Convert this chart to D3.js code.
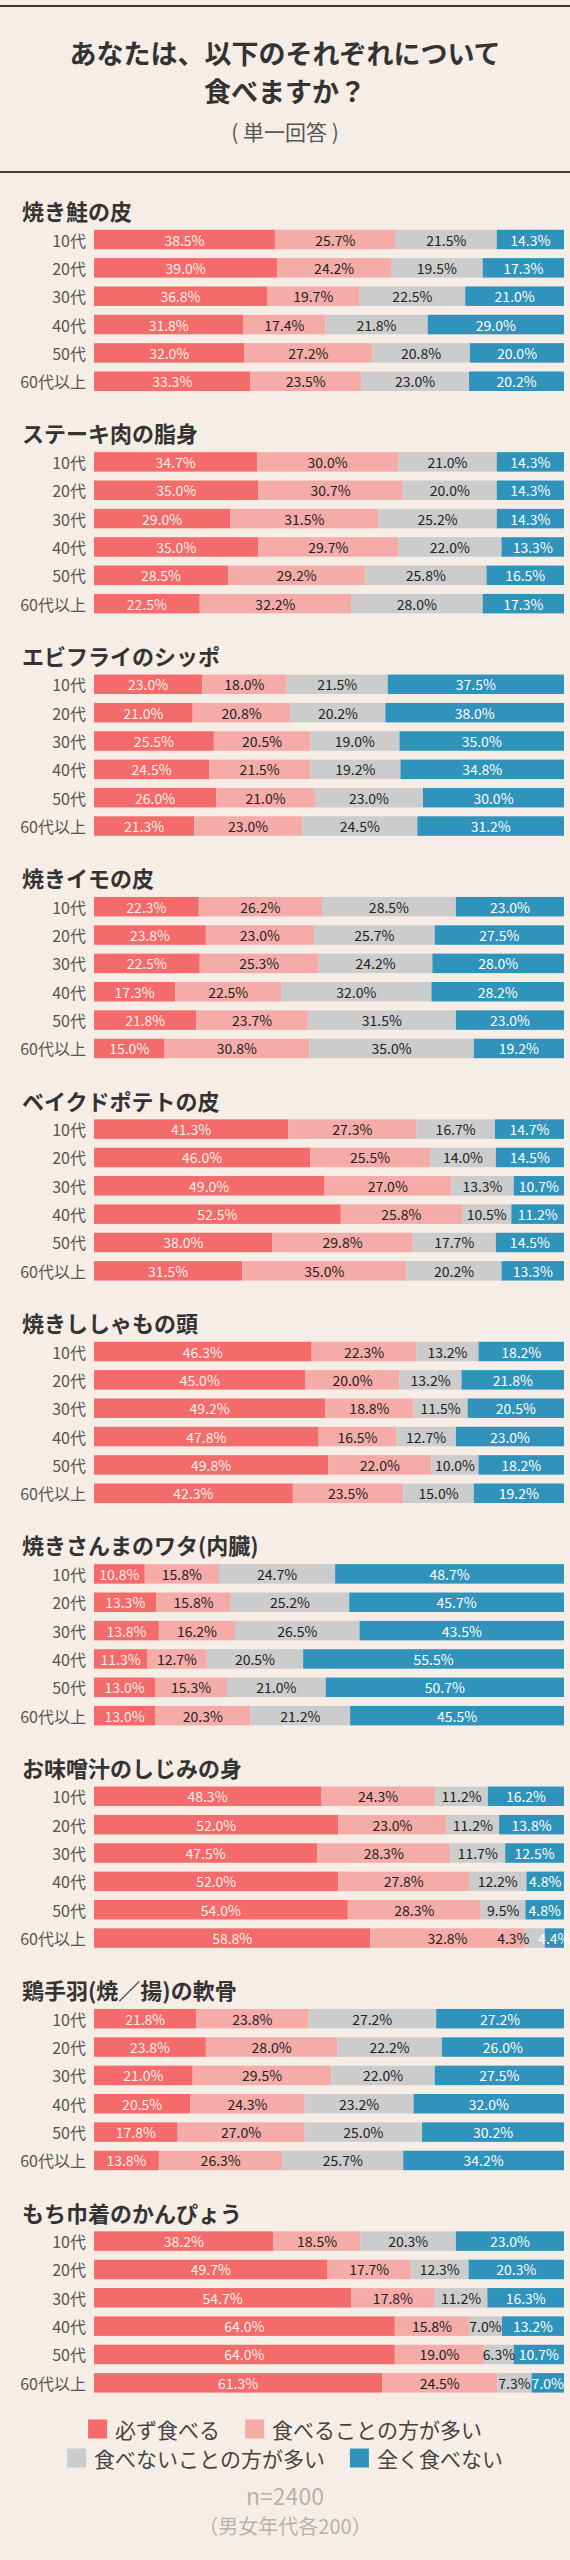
<!DOCTYPE html>
<html>
<head>
<meta charset="utf-8">
<script src="https://cdn.jsdelivr.net/npm/d3@7"></script>
<style>
  body { margin: 0; background: #f6eee6; }
  svg { display: block; }
</style>
</head>
<body>
<div class="container"></div>
<script>
const items = [
  '焼き鮭の皮', 'ステーキ肉の脂身', 'エビフライのシッポ', '焼きイモの皮', 'ベイクドポテトの皮',
  '焼きししゃもの頭', '焼きさんまのワタ(内臓)', 'お味噌汁のしじみの身', '鶏手羽(焼／揚)の軟骨', 'もち巾着のかんぴょう'
]
const ages = ['10代', '20代', '30代', '40代', '50代', '60代以上']
const answers = ['必ず食べる', '食べることの方が多い', '食べないことの方が多い', '全く食べない']

// one array per answer: [item][age]
const mustEat = [
  [38.5, 39.0, 36.8, 31.8, 32.0, 33.3],
  [34.7, 35.0, 29.0, 35.0, 28.5, 22.5],
  [23.0, 21.0, 25.5, 24.5, 26.0, 21.3],
  [22.3, 23.8, 22.5, 17.3, 21.8, 15.0],
  [41.3, 46.0, 49.0, 52.5, 38.0, 31.5],
  [46.3, 45.0, 49.2, 47.8, 49.8, 42.3],
  [10.8, 13.3, 13.8, 11.3, 13.0, 13.0],
  [48.3, 52.0, 47.5, 52.0, 54.0, 58.8],
  [21.8, 23.8, 21.0, 20.5, 17.8, 13.8],
  [38.2, 49.7, 54.7, 64.0, 64.0, 61.3]
]
const oftenEat = [
  [25.7, 24.2, 19.7, 17.4, 27.2, 23.5],
  [30.0, 30.7, 31.5, 29.7, 29.2, 32.2],
  [18.0, 20.8, 20.5, 21.5, 21.0, 23.0],
  [26.2, 23.0, 25.3, 22.5, 23.7, 30.8],
  [27.3, 25.5, 27.0, 25.8, 29.8, 35.0],
  [22.3, 20.0, 18.8, 16.5, 22.0, 23.5],
  [15.8, 15.8, 16.2, 12.7, 15.3, 20.3],
  [24.3, 23.0, 28.3, 27.8, 28.3, 32.8],
  [23.8, 28.0, 29.5, 24.3, 27.0, 26.3],
  [18.5, 17.7, 17.8, 15.8, 19.0, 24.5]
]
const rarelyEat = [
  [21.5, 19.5, 22.5, 21.8, 20.8, 23.0],
  [21.0, 20.0, 25.2, 22.0, 25.8, 28.0],
  [21.5, 20.2, 19.0, 19.2, 23.0, 24.5],
  [28.5, 25.7, 24.2, 32.0, 31.5, 35.0],
  [16.7, 14.0, 13.3, 10.5, 17.7, 20.2],
  [13.2, 13.2, 11.5, 12.7, 10.0, 15.0],
  [24.7, 25.2, 26.5, 20.5, 21.0, 21.2],
  [11.2, 11.2, 11.7, 12.2, 9.5, 4.3],
  [27.2, 22.2, 22.0, 23.2, 25.0, 25.7],
  [20.3, 12.3, 11.2, 7.0, 6.3, 7.3]
]
const neverEat = [
  [14.3, 17.3, 21.0, 29.0, 20.0, 20.2],
  [14.3, 14.3, 14.3, 13.3, 16.5, 17.3],
  [37.5, 38.0, 35.0, 34.8, 30.0, 31.2],
  [23.0, 27.5, 28.0, 28.2, 23.0, 19.2],
  [14.7, 14.5, 10.7, 11.2, 14.5, 13.3],
  [18.2, 21.8, 20.5, 23.0, 18.2, 19.2],
  [48.7, 45.7, 43.5, 55.5, 50.7, 45.5],
  [16.2, 13.8, 12.5, 4.8, 4.8, 4.4],
  [27.2, 26.0, 27.5, 32.0, 30.2, 34.2],
  [23.0, 20.3, 16.3, 13.2, 10.7, 7.0]
]
const series = [mustEat, oftenEat, rarelyEat, neverEat]

const colors = ['#f36b6a', '#f5aca8', '#cccccc', '#2f93bb']
const labelColors = ['#fdf0ec', '#222', '#222', '#fff']
const font = '"Noto Sans CJK JP", "Noto Sans", sans-serif'

const w = 570
const h = 2560
const barH = 19.5

const svg = d3.select('.container')
  .append('svg')
  .attr('width', w)
  .attr('height', h)
  .style('font-family', font)

svg.append('rect')
  .attr('width', w)
  .attr('height', h)
  .attr('fill', '#f6eee6')

// header
svg.selectAll('line.rule')
  .data([6, 172])
  .enter()
  .append('line')
  .attr('class', 'rule')
  .attr('x1', 0)
  .attr('x2', w)
  .attr('y1', d => d)
  .attr('y2', d => d)
  .attr('stroke', '#3c3c3c')
  .attr('stroke-width', 2)

svg.selectAll('text.title')
  .data(['あなたは、以下のそれぞれについて', '食べますか？'])
  .enter()
  .append('text')
  .attr('class', 'title')
  .text(d => d)
  .attr('x', w / 2)
  .attr('y', (d, i) => 52 + i * 38)
  .attr('text-anchor', 'middle')
  .attr('dominant-baseline', 'central')
  .attr('font-size', 27)
  .attr('font-weight', 'bold')
  .attr('fill', '#333')

svg.append('text')
  .text('( 単一回答 )')
  .attr('x', w / 2)
  .attr('y', 131)
  .attr('text-anchor', 'middle')
  .attr('dominant-baseline', 'central')
  .attr('font-size', 21)
  .attr('fill', '#555')

// scales
const xScale = d3.scaleLinear().domain([0, 100]).range([94, 564])
const titleY = d3.scaleLinear().domain([0, items.length - 1]).range([210, 2211.6])
const rowY = d3.scalePoint().domain(ages).range([0, 5 * 28.35])

const groups = svg.selectAll('g.item')
  .data(items)
  .enter()
  .append('g')
  .attr('class', 'item')
  .attr('transform', (d, i) => `translate(0, ${titleY(i)})`)

groups.append('text')
  .text(d => d)
  .attr('x', 22)
  .attr('y', 0)
  .attr('dominant-baseline', 'central')
  .attr('font-size', 22)
  .attr('font-weight', 'bold')
  .attr('fill', '#333')

groups.each(function (item, i) {
  const g = d3.select(this)
  ages.forEach((age, j) => {
    const cy = 29.5 + rowY(age)
    const vals = series.map(s => s[i][j])

    g.append('text')
      .text(age)
      .attr('x', 86)
      .attr('y', cy)
      .attr('text-anchor', 'end')
      .attr('dominant-baseline', 'central')
      .attr('font-size', 16)
      .attr('fill', '#555')

    let cum = 0
    const segs = vals.map((v, k) => {
      const x0 = xScale(cum)
      cum += v
      const x1 = k === vals.length - 1 ? xScale(100) : xScale(cum)
      return { v, k, x0, x1 }
    })

    g.selectAll(null)
      .data(segs)
      .enter()
      .append('rect')
      .attr('x', d => d.x0)
      .attr('y', cy - barH / 2)
      .attr('width', d => d.x1 - d.x0)
      .attr('height', barH)
      .attr('fill', d => colors[d.k])

    g.selectAll(null)
      .data(segs)
      .enter()
      .append('text')
      .text(d => d.v.toFixed(1) + '%')
      .attr('x', d => (d.k === 2 && d.x1 - d.x0 < 24) ? d.x0 + 5 : (d.x0 + d.x1) / 2)
      .attr('y', cy)
      .attr('text-anchor', d => (d.k === 2 && d.x1 - d.x0 < 24) ? 'end' : 'middle')
      .attr('dominant-baseline', 'central')
      .attr('font-size', 14)
      .attr('fill', d => labelColors[d.k])
  })
})

// legend
const legendRows = [[0, 1], [2, 3]]
legendRows.forEach((row, r) => {
  const y = 2429 + r * 29
  const lg = svg.append('g')
  let x = 0
  row.forEach(k => {
    lg.append('rect')
      .attr('x', x)
      .attr('y', y - 9.5)
      .attr('width', 19)
      .attr('height', 19)
      .attr('fill', colors[k])
    const t = lg.append('text')
      .text(answers[k])
      .attr('x', x + 27)
      .attr('y', y)
      .attr('dominant-baseline', 'central')
      .attr('font-size', 21)
      .attr('fill', '#444')
    x += 27 + t.node().getComputedTextLength() + 25
  })
  const total = x - 25
  lg.attr('transform', `translate(${(w - total) / 2}, 0)`)
})

svg.append('text')
  .text('n=2400')
  .attr('x', w / 2)
  .attr('y', 2495)
  .attr('text-anchor', 'middle')
  .attr('dominant-baseline', 'central')
  .attr('font-size', 23)
  .attr('fill', '#b3b3b3')

svg.append('text')
  .text('（男女年代各200）')
  .attr('x', w / 2)
  .attr('y', 2525)
  .attr('text-anchor', 'middle')
  .attr('dominant-baseline', 'central')
  .attr('font-size', 20)
  .attr('fill', '#b3b3b3')
</script>
</body>
</html>
